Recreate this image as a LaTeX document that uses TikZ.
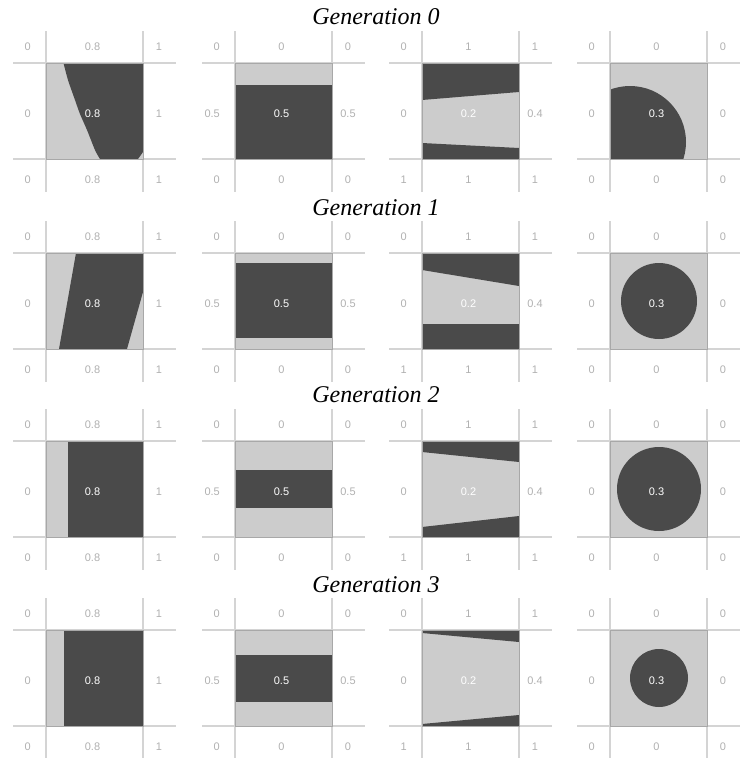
\documentclass[tikz,border=0pt]{standalone}
\usepackage{fontspec}
\setmainfont{Liberation Serif}
\newfontfamily\lblfont{Liberation Sans}
\definecolor{lightfill}{HTML}{CCCCCC}
\definecolor{darkfill}{HTML}{4A4A4A}
\definecolor{gridcol}{HTML}{D4D4D4}
\definecolor{bordercol}{HTML}{A8A8A8}
\definecolor{lblcol}{HTML}{B0B0B0}
\tikzset{
  gridline/.style={draw=gridcol, line width=1.5pt},
  sqborder/.style={draw=bordercol, line width=0.8pt},
  lightsq/.style={fill=lightfill},
  darkshape/.style={fill=darkfill},
  outlbl/.style={inner sep=0pt, text=lblcol, font=\lblfont\fontsize{11}{13}\selectfont},
  inlbl/.style={inner sep=0pt, text=white, font=\lblfont\fontsize{11}{13}\selectfont},
  gentitle/.style={inner sep=0pt, anchor=base, font=\itshape\fontsize{24}{28}\selectfont}
}
\begin{document}
\begin{tikzpicture}[x=1pt,y=-1pt]
\useasboundingbox (0,0) rectangle (742,758);
% pass 1: grid lines and light squares
\foreach \c/\L in {0/46,1/235,2/422,3/610}{
  \foreach \r/\T in {0/63,1/253,2/441,3/630}{
    \draw[gridline] (\L,\T-32) -- (\L,\T+129);
    \draw[gridline] (\L+97,\T-32) -- (\L+97,\T+129);
    \draw[gridline] (\L-33,\T) -- (\L+130,\T);
    \draw[gridline] (\L-33,\T+96) -- (\L+130,\T+96);
    \fill[lightsq] (\L,\T) rectangle (\L+97,\T+96);
  }
}
% pass 2: dark shapes
% generation 0
\fill[darkshape] plot[smooth] coordinates {(63.5,63) (68,80) (75,100) (80,114) (87,130) (95,150) (100,159)}
  -- (138,159) -- (143,152) -- (143,63) -- cycle;
\fill[darkshape] (235,85) rectangle (332,159);
\fill[darkshape] (422,63) -- (519,63) -- (519,92) -- (422,100) -- cycle;
\fill[darkshape] (422,143) -- (519,148) -- (519,159) -- (422,159) -- cycle;
\begin{scope}
  \clip (610,63) rectangle (707,159);
  \fill[darkshape] (630,142) circle[radius=56];
\end{scope}
% generation 1
\fill[darkshape] (76,253) -- (143,253) -- (143,292) -- (127,349) -- (59,349) -- cycle;
\fill[darkshape] (235,263) rectangle (332,338);
\fill[darkshape] (422,253) -- (519,253) -- (519,286) -- (422,270) -- cycle;
\fill[darkshape] (422,324) rectangle (519,349);
\fill[darkshape] (659,301) circle[radius=38];
% generation 2
\fill[darkshape] (68,441) rectangle (143,537);
\fill[darkshape] (235,470) rectangle (332,508);
\fill[darkshape] (422,441) -- (519,441) -- (519,462) -- (422,452) -- cycle;
\fill[darkshape] (422,527) -- (519,516) -- (519,537) -- (422,537) -- cycle;
\fill[darkshape] (659,489) circle[radius=42];
% generation 3
\fill[darkshape] (64,630) rectangle (143,726);
\fill[darkshape] (235,655) rectangle (332,702);
\fill[darkshape] (422,630) -- (519,630) -- (519,642) -- (422,633) -- cycle;
\fill[darkshape] (422,724) -- (519,715) -- (519,726) -- (422,726) -- cycle;
\fill[darkshape] (659,678) circle[radius=29];
% pass 3: borders and labels
\foreach \c/\L/\tl/\tc/\tr/\ml/\mc/\mr/\bl/\bc/\br in
  {0/46/0/0.8/1/0/0.8/1/0/0.8/1,
   1/235/0/0/0/0.5/0.5/0.5/0/0/0,
   2/422/0/1/1/0/0.2/0.4/1/1/1,
   3/610/0/0/0/0/0.3/0/0/0/0}{
  \foreach \r/\T in {0/63,1/253,2/441,3/630}{
    \draw[sqborder] (\L,\T) rectangle (\L+97,\T+96);
    \node[outlbl, anchor=east] (tl-\r-\c) at (\L-15,\T-16) {\tl};
    \node[outlbl] (tc-\r-\c) at (\L+46.5,\T-16) {\tc};
    \node[outlbl] (tr-\r-\c) at (\L+113,\T-16) {\tr};
    \node[outlbl, anchor=east] (ml-\r-\c) at (\L-15,\T+51) {\ml};
    \node[inlbl] (mc-\r-\c) at (\L+46.5,\T+51) {\mc};
    \node[outlbl] (mr-\r-\c) at (\L+113,\T+51) {\mr};
    \node[outlbl, anchor=east] (bl-\r-\c) at (\L-15,\T+117) {\bl};
    \node[outlbl] (bc-\r-\c) at (\L+46.5,\T+117) {\bc};
    \node[outlbl] (br-\r-\c) at (\L+113,\T+117) {\br};
  }
}
% titles
\node[gentitle] (gen0) at (376,24) {Generation 0};
\node[gentitle] (gen1) at (376,215) {Generation 1};
\node[gentitle] (gen2) at (376,402) {Generation 2};
\node[gentitle] (gen3) at (376,592) {Generation 3};
\end{tikzpicture}
\end{document}
